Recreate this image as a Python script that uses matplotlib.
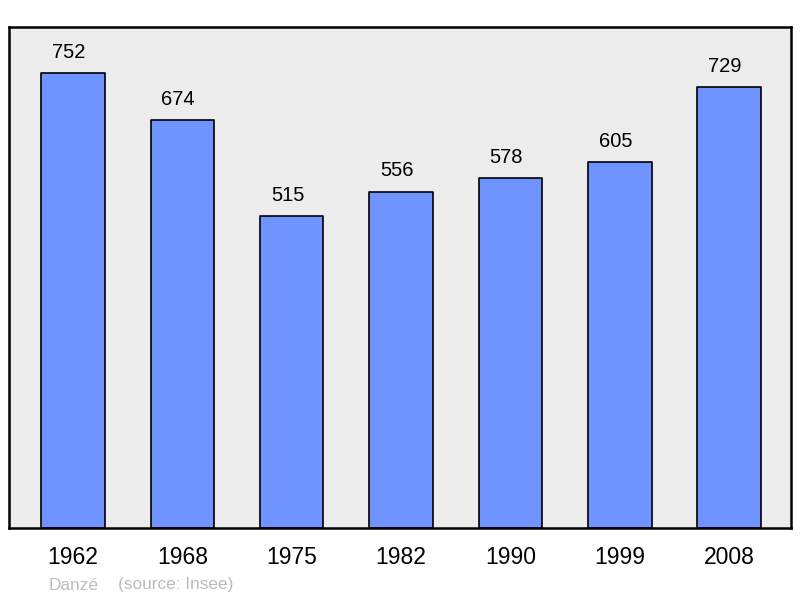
import matplotlib
matplotlib.use("Agg")
import matplotlib.pyplot as plt

years = ["1962", "1968", "1975", "1982", "1990", "1999", "2008"]
population = [752, 674, 515, 556, 578, 605, 729]

plt.rcParams['font.family'] = ['Liberation Sans', 'DejaVu Sans']

fig = plt.figure(figsize=(8, 5.98), dpi=100)
ax = fig.add_axes([9/800, 1 - 528/598, 782/800, 501/598])
ax.set_facecolor('#ececec')

x = list(range(len(years)))
bars = ax.bar(x, population, width=0.58, color='#7094ff', edgecolor='black',
              linewidth=1.2, joinstyle='round', zorder=2)
for xi, v in zip(x, population):
    ax.annotate(str(v), (xi, v), xytext=(-3, 8), textcoords='offset points',
                ha='center', va='bottom', fontsize=14.5)

ax.set_xlim(-0.585, 6.565)
ax.set_ylim(0, 828)
ax.set_yticks([])
ax.set_xticks(x)
ax.set_xticklabels(years, fontsize=16.5)
ax.tick_params(axis='x', length=0, pad=13)
for s in ax.spines.values():
    s.set_linewidth(1.8)
    s.set_joinstyle('round')

fig.text(49/800, 1 - 585/598, "Danzé", color='#bbbbbb', fontsize=12.4, va='center')
fig.text(118/800, 1 - 585/598, "(source: Insee)", color='#bbbbbb', fontsize=12.4, va='center')

fig.savefig("out.png", dpi=100)
